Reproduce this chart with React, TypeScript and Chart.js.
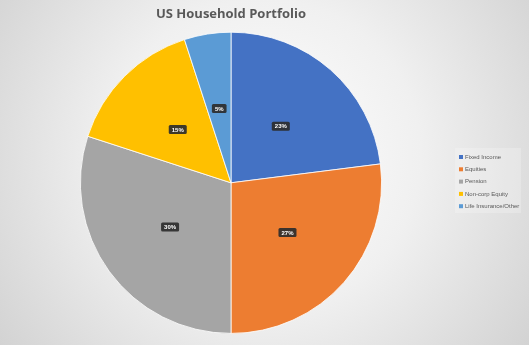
import React, { useEffect, useRef } from "react";
import { Chart, registerables } from "chart.js";

Chart.register(...registerables);

const categories = ["Fixed Income", "Equities", "Pension", "Non-corp Equity", "Life Insurance/Other"];
const shares = [23, 27, 30, 15, 5];
const sliceColors = ["#4472C4", "#ED7D31", "#A5A5A5", "#FFC000", "#5B9BD5"];
const chartTitle = "US Household Portfolio";

const bgPlugin = {
  id: "bgGrad",
  beforeDraw(chart: any) {
    const { ctx, width, height } = chart;
    ctx.save();
    const g = ctx.createRadialGradient(width * 0.5, height * 0.45, 0, width * 0.5, height * 0.45, Math.hypot(width, height) * 0.55);
    g.addColorStop(0, "#ffffff");
    g.addColorStop(0.45, "#f0f0f0");
    g.addColorStop(1, "#cfcfcf");
    ctx.fillStyle = g;
    ctx.fillRect(0, 0, width, height);
    ctx.restore();
  },
};

const labelPlugin = {
  id: "sliceLabels",
  afterDatasetsDraw(chart: any) {
    const { ctx } = chart;
    const meta = chart.getDatasetMeta(0);
    ctx.save();
    ctx.font = "bold 6px 'Liberation Sans', Arial, sans-serif";
    ctx.textAlign = "center";
    ctx.textBaseline = "middle";
    meta.data.forEach((arc: any, i: number) => {
      const p = arc.tooltipPosition();
      const txt = shares[i] + "%";
      const w = ctx.measureText(txt).width + 6;
      const h = 9;
      ctx.fillStyle = "rgba(45,45,45,0.92)";
      ctx.beginPath();
      (ctx as any).roundRect(p.x - w / 2, p.y - h / 2, w, h, 1.5);
      ctx.fill();
      ctx.fillStyle = "#ffffff";
      ctx.fillText(txt, p.x, p.y + 0.5);
    });
    ctx.restore();
  },
};

const legendPlugin = {
  id: "customLegend",
  afterDraw(chart: any) {
    const { ctx } = chart;
    ctx.save();
    const x0 = 455, y0 = 148, bw = 66, bh = 65;
    ctx.fillStyle = "rgba(255,255,255,0.22)";
    ctx.fillRect(x0, y0, bw, bh);
    ctx.font = "6px 'Liberation Sans', Arial, sans-serif";
    ctx.textBaseline = "middle";
    ctx.textAlign = "left";
    categories.forEach((c, i) => {
      const y = 157 + i * 12.3;
      ctx.fillStyle = sliceColors[i];
      ctx.fillRect(459, y - 2, 4, 4);
      ctx.fillStyle = "#595959";
      ctx.fillText(c, 465, y);
    });
    ctx.restore();
  },
};

export default function App() {
  const ref = useRef<HTMLCanvasElement>(null);
  useEffect(() => {
    document.body.style.margin = "0";
    const chart = new Chart(ref.current!, {
      type: "pie",
      data: {
        labels: categories,
        datasets: [
          {
            data: shares,
            backgroundColor: sliceColors,
            borderColor: "#ffffff",
            borderWidth: 0.8,
          },
        ],
      },
      options: {
        animation: false,
        responsive: false,
        events: [],
        layout: { padding: { left: 80, right: 147, top: 0, bottom: 11 } },
        plugins: {
          legend: { display: false },
          tooltip: { enabled: false },
          title: {
            display: true,
            text: chartTitle,
            color: "#595959",
            font: { size: 13, weight: "bold", family: "'Open Sans', 'Liberation Sans', sans-serif" },
            padding: { top: 6, bottom: 10 },
          },
        },
      },
      plugins: [bgPlugin, labelPlugin, legendPlugin],
    });
    return () => chart.destroy();
  }, []);
  return (
    <div style={{ position: "absolute", left: 0, top: 0, width: 529, height: 345 }}>
      <canvas ref={ref} width={529} height={345} style={{ display: "block" }} />
    </div>
  );
}
